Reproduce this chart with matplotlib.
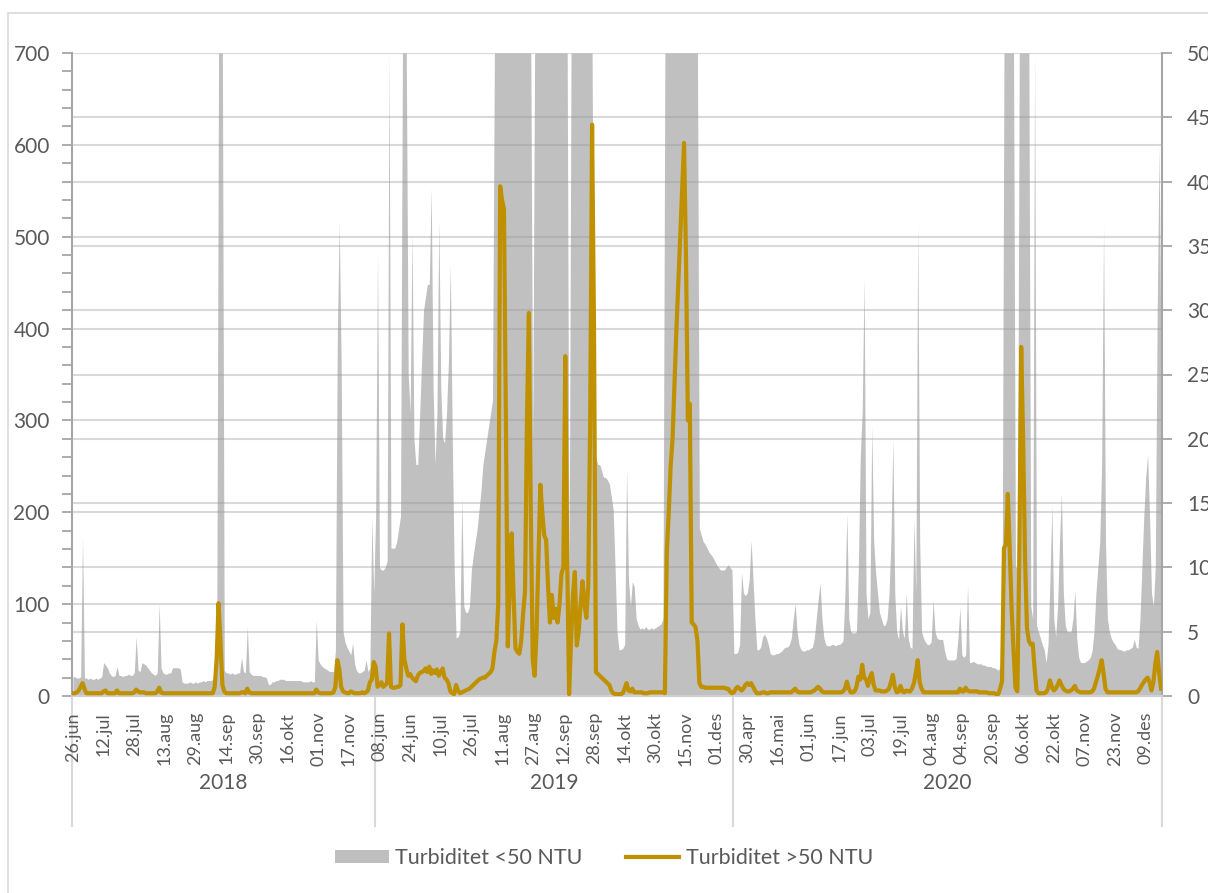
import matplotlib
matplotlib.use("Agg")
import matplotlib.pyplot as plt
from matplotlib.patches import Patch, Rectangle
from matplotlib.lines import Line2D
import matplotlib.transforms as mtransforms
import pandas as pd
import numpy as np

plt.rcParams['font.family'] = ['Lato', 'DejaVu Sans']

# category segments (daily values, the axis is a category axis)
segments = [("2018-06-26", "2018-11-30"),
            ("2019-06-06", "2019-12-09"),
            ("2020-04-23", "2020-08-19"),
            ("2020-09-04", "2020-12-17")]
years = ["2018", "2019", "2020"]
months_no = ['jan', 'feb', 'mar', 'apr', 'mai', 'jun', 'jul', 'aug', 'sep', 'okt', 'nov', 'des']

# Turbiditet <50 NTU (right axis)
gray_2018 = [1.5, 1.5, 1.4, 1.4, 1.5, 12.4, 1.4, 1.4, 1.3, 1.4, 1.3, 1.3, 1.4, 1.3, 1.4, 1.5,
             2.6, 2.4, 2.2, 1.8, 1.6, 1.5, 1.6, 2.3, 1.6, 1.6, 1.5, 1.6, 1.6, 1.7, 1.6, 1.6, 1.8,
             4.6, 2.0, 1.9, 2.6, 2.5, 2.4, 2.2, 2.0, 1.8, 1.7, 1.6, 1.8, 7.2,
             2.2, 1.8, 1.7, 1.7, 1.8, 1.8, 2.2, 2.2, 2.2, 2.2, 2.1,
             1.1, 1.0, 1.0, 1.0, 1.1, 1.0, 1.0, 1.1, 1.0, 1.1, 1.1, 1.2, 1.1, 1.2, 1.2,
             1.2, 1.3, 1.4, 1.5, 50, 50, 50,
             2.0, 1.8, 1.8, 1.7, 1.8, 1.7, 1.7, 1.8, 1.8, 3.0, 1.9, 1.8, 5.4,
             1.9, 1.7, 1.6, 1.6, 1.6, 1.6, 1.6, 1.5, 1.5, 1.4, 0.9, 0.9,
             1.1, 1.1, 1.2, 1.2, 1.3, 1.3, 1.3, 1.2, 1.2, 1.2, 1.2, 1.2, 1.2, 1.2, 1.2, 1.2,
             1.1, 1.1, 1.1, 1.1, 1.2, 1.1, 1.1, 5.9,
             2.8, 2.5, 2.3, 2.2, 2.1, 2.0, 1.9, 1.9, 1.9, 3.5, 28, 36.8, 26, 5,
             4.2, 3.8, 3.5, 3.2, 4.1, 2.5, 2.0, 1.8, 1.8, 1.9, 2.0, 2.8, 1.9, 2.2, 13.9, 8]
gray_2019 = [14, 34.5, 10, 9.8, 9.8, 10, 10.5, 50, 11.5, 11.5, 11.5, 12, 13, 14, 50, 50, 50,
             25, 22, 36, 20, 18, 18, 22, 26, 30, 31, 32, 32, 39.5, 24, 18, 22, 37,
             24, 20, 19.7, 22, 26, 33.6, 20, 10, 4.5, 4.6, 5, 15.5, 7, 6.5, 6.5, 7,
             9.8, 11, 12, 13, 14.5, 16, 18, 19, 20, 21, 22, 23,
             50, 50, 50, 50, 50, 50, 50, 50, 50, 50, 50, 50, 50, 50, 50, 50, 50, 50, 50, 50,
             20,
             50, 50, 50, 50, 50, 50, 50, 50, 50, 50, 50, 50, 50, 50, 50, 50, 50, 50,
             8,
             50, 50, 50, 50, 50, 50, 50, 50, 50, 50, 50, 50,
             19, 18.5, 18, 18, 17.5, 17, 17, 16.8, 16.5, 15.5, 14.5, 10, 5,
             3.6, 3.6, 3.7, 4, 17.7, 9, 7, 8.9, 8.5, 6, 5.5,
             5.2, 5.3, 5.2, 5.4, 5.2, 5.2, 5.3, 5.2, 5.3, 5.4, 5.5, 5.6, 6,
             50, 50, 50, 50, 50, 50, 50, 50, 50, 50, 50, 50, 50, 50, 50, 50, 50, 50,
             13, 12.5, 12, 11.8, 11.5, 11.2, 11, 10.8, 10.5,
             10.2, 10, 9.8, 9.8, 9.8, 10, 10.2, 10, 9.8]
gray_2020 = [3.3, 3.3, 3.4, 4, 9.6, 8, 7.8, 8, 9, 12.1, 9, 6, 3.6, 3.6, 3.8, 4.6, 4.8, 4.5, 4,
             3.3, 3.2, 3.2, 3.3, 3.3, 3.4, 3.5, 3.7, 3.8, 3.8, 4, 4.5, 6, 7.2, 5, 4,
             3.6, 3.5, 3.5, 3.6, 3.6, 3.7, 3.8, 4.5, 6, 7.5, 8.8, 6, 4.5, 4,
             3.9, 3.9, 4, 4, 3.9, 4, 4, 4.1, 4.3, 8, 14.2, 6, 5, 4.9, 4.9, 5,
             10, 18.6, 22, 32.6, 8, 6, 6.5, 21, 12, 9.6, 8, 6.5, 6,
             5.5, 5.5, 6, 8, 12, 20, 8, 5, 4.4, 7, 5, 4.5, 8, 4.5, 3.8, 3.7,
             13.7, 8, 36.9, 12, 5, 4.5, 4.2, 4, 4, 4.2, 7.5, 5, 4.5, 4.4, 4.4, 4.4, 3.5,
             2.9, 2.8, 2.8, 2.8, 2.8, 2.9, 4.5, 6.9, 3.2, 3, 3.2, 8.6,
             2.6, 2.6, 2.7, 2.6, 2.5, 2.5, 2.5, 2.4, 2.4, 2.3, 2.3, 2.3, 2.2, 2.2, 2.1,
             2.0, 2.2, 5, 50, 50, 50, 50, 50, 50, 10, 10, 50, 50, 50, 50, 50, 50,
             7, 6, 50, 5.5, 5, 4.5, 4, 3.6, 2.6, 4, 9, 14.8, 6, 4.6, 7, 12, 15.8,
             8, 5.5, 5, 5, 5, 6, 8.2, 4.5, 3, 2.6, 2.6, 2.6, 2.7, 2.8,
             3, 3.5, 5, 8, 10, 12, 18, 36.5, 12, 6, 5, 4.5, 4.2, 4,
             3.7, 3.6, 3.6, 3.5, 3.5, 3.6, 3.6, 3.7, 3.8, 4.4, 3.8, 3.7,
             6, 10, 14, 17, 18.8, 14, 8, 7, 10, 30, 42.7, 25]

# Turbiditet >50 NTU (left axis)
gold_2018 = [3, 3, 4, 6, 10, 14, 8, 3, 3, 3, 3, 3, 3, 3, 3, 3, 5, 6, 3, 3, 3, 3, 3, 6,
             3, 3, 3, 3, 3, 3, 3, 3, 4, 7, 5, 4, 4, 4, 3, 3, 3, 3, 3, 3, 5, 9,
             4, 3, 3, 3, 3, 3, 3, 3, 3, 3, 3, 3, 3, 3, 3, 3, 3, 3, 3, 3, 3, 3, 3, 3, 3, 3, 3, 3,
             10, 40, 101, 60, 12, 5,
             3, 3, 3, 3, 3, 3, 3, 3, 4, 4, 3, 8, 4,
             3, 3, 3, 3, 3, 3, 3, 3, 3, 3, 3, 3, 3, 3, 3, 3, 3,
             3, 3, 3, 3, 3, 3, 3, 3, 3, 3, 3, 3, 3, 3, 3, 3, 3,
             7, 4, 3, 3, 3, 3, 3, 3, 3, 4, 10, 39, 30, 10, 5, 4,
             3, 3, 5, 4, 3, 3, 3, 3, 4, 3, 4, 6, 15, 18, 37]
gold_2019 = [32, 10, 12, 15, 10, 12, 14, 68, 10, 9, 9, 10, 10, 12, 78,
             40, 30, 22, 24, 20, 18, 16, 22, 25, 26, 27, 30, 26, 32,
             24, 28, 25, 29, 22, 26, 30, 20, 18, 14, 5, 3, 2, 12, 6, 3, 4, 5,
             6, 7, 8, 10, 12, 14, 16, 18, 19, 20, 20, 22, 24, 26, 30, 48, 60,
             100, 555, 540, 530, 300, 54, 120, 177, 110, 52, 48, 46,
             60, 90, 114, 300, 417, 200, 40, 22, 70, 150, 230, 200, 175, 170, 120, 80,
             110, 85, 95, 80, 100, 133, 140, 370, 150,
             2, 60, 110, 135, 55, 70, 100, 125, 100, 85, 120, 300, 622, 400,
             26, 24, 22, 20, 18, 16, 14, 12, 6,
             3, 2, 2, 2, 2, 3, 8, 14, 6, 5, 8, 4,
             4, 4, 4, 4, 3, 3, 3, 4, 4, 4, 4, 4, 4, 4, 4,
             3, 156, 200, 250, 280, 340, 398, 450, 500, 550, 602,
             480, 300, 318, 80, 78, 75, 60, 14,
             10, 10, 9, 9, 9, 9, 9, 9, 9, 9, 9, 9, 9, 8, 8, 5, 3]
gold_2020 = [4, 8, 10, 8, 6, 8, 12, 14, 12, 14, 10, 6, 3, 3, 3, 4, 4, 3, 3,
             4, 4, 4, 4, 4, 4, 4, 4, 4, 4, 4, 4, 6, 8, 5,
             4, 4, 4, 4, 4, 4, 4, 5, 6, 8, 10, 8,
             5, 4, 4, 4, 4, 4, 4, 4, 4, 4, 4, 5, 8, 15.6, 8, 4, 4, 5, 10,
             21, 18, 34, 20, 18, 11, 20, 25, 12, 6, 6, 6, 5, 5, 5, 6, 8, 15, 23, 10,
             4, 5, 11, 5, 4, 6, 5, 5, 8, 14, 25, 39, 15, 8,
             4, 4, 4, 4, 4, 4, 4, 4, 4, 4, 4, 4, 4, 4, 4, 4, 4, 4, 4,
             8, 5, 5, 9, 6, 5, 5, 5, 5, 5, 4, 4, 4, 4, 4, 3, 3, 3, 3, 2,
             2, 8, 16, 161, 165, 220, 160, 95, 50, 9, 5, 150, 380, 280, 150, 74, 60, 56, 57, 30, 6,
             3, 3, 3, 3, 4, 8, 17, 10, 6, 8, 12, 17, 12, 8, 6, 5, 5, 6, 8, 11,
             6, 5, 4, 4, 4, 4, 4, 4, 5, 8, 15, 22, 30, 39, 25, 8, 4,
             4, 4, 4, 4, 4, 4, 4, 4, 4, 4, 4, 4, 4, 4, 4,
             5, 8, 12, 15, 18, 20, 15, 6, 15, 35, 48, 25, 8]

dates = pd.DatetimeIndex(np.concatenate([pd.date_range(a, b).values for a, b in segments]))
gray = np.array(gray_2018 + gray_2019 + gray_2020)
gold = np.array(gold_2018 + gold_2019 + gold_2020)
group_sizes = [len(gray_2018), len(gray_2019), len(gray_2020)]
if not (len(dates) == len(gray) == len(gold)):
    raise ValueError(f"lengths {len(dates)} {len(gray)} {len(gold)} {group_sizes}")
x = np.arange(len(dates))

txt = '#595959'
W, H = 1208, 893
fig = plt.figure(figsize=(W / 100, H / 100), dpi=100)
ax = fig.add_axes([72 / W, 1 - 696 / H, (1162 - 72) / W, (696 - 53) / H])
ax2 = ax.twinx()
ax.set_zorder(2)
ax2.set_zorder(1)
ax.patch.set_visible(False)

# gridlines for both axes, under the area
for v in range(5, 55, 5):
    ax2.axhline(v, color='#d9d9d9', lw=1.5, zorder=0.5)
for v in range(100, 800, 100):
    ax2.plot([0, 1], [v, v], transform=ax.get_yaxis_transform(), color='#d9d9d9', lw=1.5, zorder=0.5)

ax2.fill_between(x, 0, gray, color='#9b9b9b', alpha=0.63, lw=0, zorder=1)
ax.plot(x, gold, color='#bf9000', lw=3.0, solid_joinstyle='round', zorder=3)

ax.set_xlim(-0.5, len(x) - 0.5)
ax.set_ylim(0, 700)
ax2.set_ylim(0, 50)

ax.set_yticks(range(0, 800, 100))
ax.set_yticks(range(0, 710, 20), minor=True)
ax2.set_yticks(range(0, 55, 5))
ax.tick_params(axis='y', which='both', direction='out', length=7, width=1.3, color='#a6a6a6',
               labelcolor=txt, labelsize=15, pad=9)
ax2.tick_params(axis='y', direction='out', length=7, width=1.3, color='#a6a6a6',
                labelcolor=txt, labelsize=15, pad=11)

# date labels every 16th category, hanging below the axis
ticks = list(range(0, len(x), 16))
ax.set_xticks(ticks)
ax.set_xticklabels([])
ax.tick_params(axis='x', length=0)
trans = mtransforms.blended_transform_factory(ax.transData, ax.transAxes)
for i in ticks:
    ax.text(i, -16 / 643, f"{dates[i].day:02d}.{months_no[dates[i].month - 1]}", transform=trans,
            rotation=90, ha='center', va='top', fontsize=13, color=txt)

for s in ['top']:
    ax.spines[s].set_visible(False)
    ax2.spines[s].set_visible(False)
ax2.spines['left'].set_visible(False)
ax2.spines['bottom'].set_visible(False)
ax.spines['right'].set_visible(False)
ax.spines['left'].set_color('#a6a6a6')
ax.spines['left'].set_linewidth(1.5)
ax2.spines['right'].set_color('#a6a6a6')
ax2.spines['right'].set_linewidth(1.5)
ax.spines['bottom'].set_color('#d0d0d0')
ax.spines['bottom'].set_linewidth(1.5)

# year groups below the axis
bounds = [-0.5]
for n in group_sizes:
    bounds.append(bounds[-1] + n)
for b in bounds:
    ax.plot([b, b], [0, -130 / 643], transform=trans, color='#d9d9d9', lw=1.5, clip_on=False)
for k, yr in enumerate(years):
    ax.text((bounds[k] + bounds[k + 1]) / 2, -87 / 643, yr, transform=trans, ha='center',
            va='center', fontsize=15, color=txt)

handles = [Patch(facecolor='#bfbfbf', edgecolor='none'),
           Line2D([0], [0], color='#bf9000', lw=3.0)]
fig.legend(handles, ['Turbiditet <50 NTU', 'Turbiditet >50 NTU'], loc='center',
           bbox_to_anchor=(0.5, 1 - 858 / H), ncol=2, frameon=False, fontsize=15.5,
           labelcolor=txt, handlelength=2.5, handleheight=0.55, handletextpad=0.3,
           columnspacing=2.0)

fig.patches.append(Rectangle((8 / W, -0.1), 1.2, 1.1 - 13 / H, transform=fig.transFigure,
                             fill=False, edgecolor='#d9d9d9', lw=1.2))

fig.savefig('out.png', dpi=100)
